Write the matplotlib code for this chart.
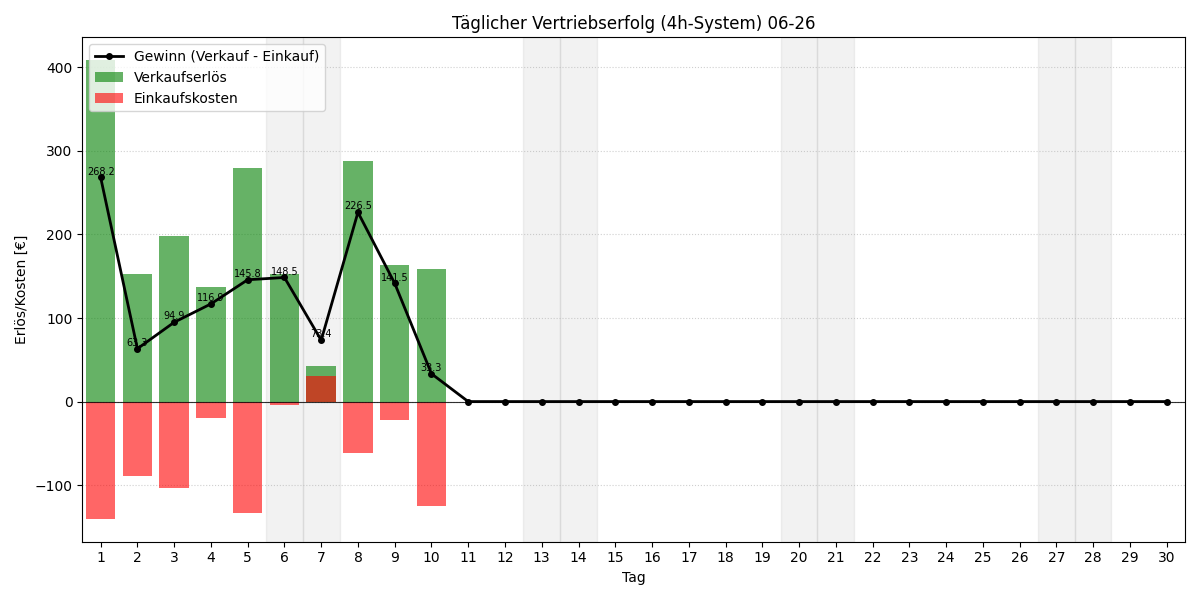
import matplotlib
matplotlib.use("Agg")
import matplotlib.pyplot as plt
import numpy as np

days = list(range(1, 31))
sales = [408.5, 152.5, 198.0, 137.0, 279.0, 153.0, 42.5, 287.5, 163.5, 158.5] + [0.0] * 20
costs = [140.3, 89.2, 103.1, 20.1, 133.2, 4.5, -30.9, 61.0, 22.0, 125.2] + [0.0] * 20
profit = [268.2, 63.3, 94.9, 116.9, 145.8, 148.5, 73.4, 226.5, 141.5, 33.3] + [0.0] * 20
weekend_days = [6, 7, 13, 14, 20, 21, 27, 28]

fig, ax = plt.subplots(figsize=(12, 6), dpi=100)

for d in weekend_days:
    ax.axvspan(d - 0.5, d + 0.5, color="gray", alpha=0.1, zorder=0)

ax.bar(days, sales, color="green", alpha=0.6, label="Verkaufserlös", zorder=2)
ax.bar(days, [-c for c in costs], color="red", alpha=0.6, label="Einkaufskosten", zorder=2)
ax.plot(days, profit, color="black", marker="o", markersize=4, linewidth=2,
        label="Gewinn (Verkauf - Einkauf)", zorder=3)

for d, p in zip(days, profit):
    if p > 0:
        ax.text(d, p + 1, f"{p:.1f}", ha="center", va="bottom", fontsize=7, zorder=4)

ax.axhline(0, color="black", linewidth=0.8, alpha=0.8, zorder=2.5)
ax.set_xlim(0.5, 30.5)
ax.set_xticks(days)
ax.set_xlabel("Tag")
ax.set_ylabel("Erlös/Kosten [€]")
ax.set_title("Täglicher Vertriebserfolg (4h-System) 06-26")
ax.grid(axis="y", linestyle=":", alpha=0.6)
ax.legend(loc="upper left")
fig.tight_layout()
fig.savefig("out.png")
